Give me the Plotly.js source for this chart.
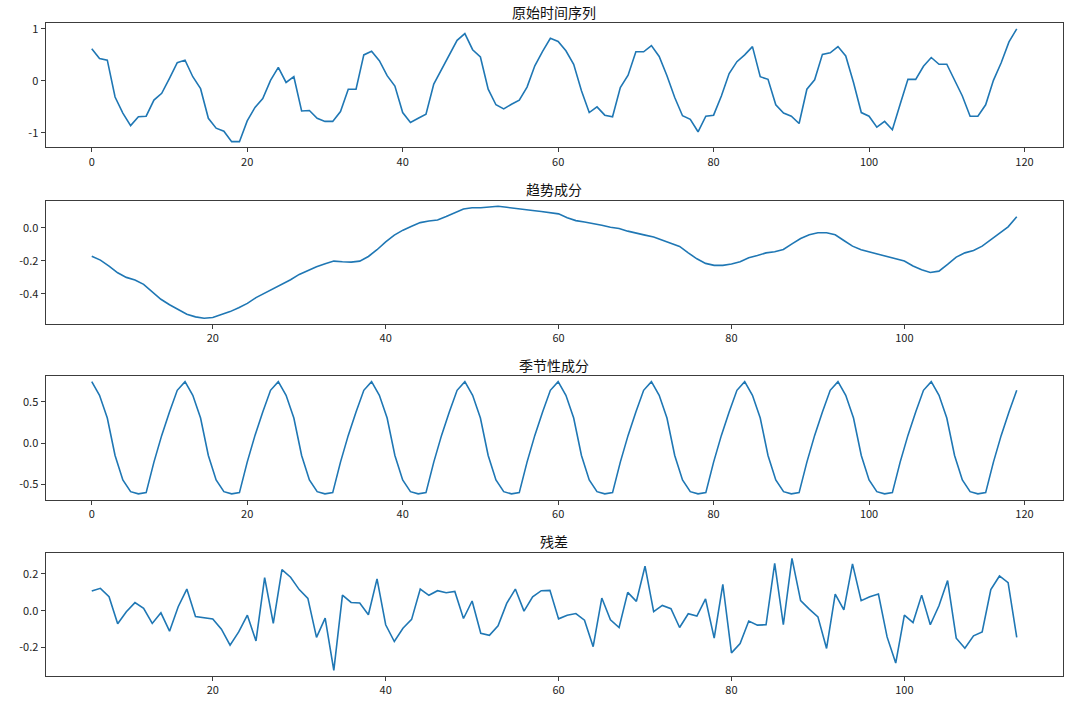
<!DOCTYPE html>
<html>
<head>
<meta charset="utf-8">
<script src="https://cdn.plot.ly/plotly-3.0.1.min.js"></script>
<style>html,body{margin:0;padding:0;background:#fff;}#chart{width:1080px;height:710px;}</style>
</head>
<body>
<div id="chart"></div>
<script>
// ---------- data ----------
const originalX = Array.from({length: 120}, (_, i) => i);
const originalY = [
  0.62, 0.43, 0.40, -0.31, -0.62, -0.86, -0.69, -0.68, -0.37, -0.24,
  0.05, 0.35, 0.40, 0.08, -0.15, -0.72, -0.91, -0.97, -1.17, -1.17,
  -0.77, -0.51, -0.34, 0.01, 0.26, -0.03, 0.08, -0.58, -0.57, -0.72,
  -0.78, -0.78, -0.59, -0.16, -0.16, 0.50, 0.57, 0.39, 0.10, -0.10,
  -0.61, -0.80, -0.72, -0.64, -0.06, 0.22, 0.51, 0.78, 0.91, 0.60,
  0.46, -0.16, -0.46, -0.54, -0.45, -0.37, -0.12, 0.29, 0.57, 0.82,
  0.76, 0.58, 0.32, -0.19, -0.61, -0.50, -0.66, -0.69, -0.13, 0.11,
  0.56, 0.56, 0.68, 0.47, 0.10, -0.32, -0.67, -0.74, -0.98, -0.68,
  -0.66, -0.29, 0.14, 0.37, 0.50, 0.66, 0.08, 0.03, -0.46, -0.62,
  -0.68, -0.82, -0.16, 0.02, 0.51, 0.54, 0.66, 0.48, -0.03, -0.61,
  -0.68, -0.89, -0.78, -0.94, -0.45, 0.03, 0.03, 0.28, 0.45, 0.32,
  0.32, 0.00, -0.29, -0.68, -0.68, -0.46, 0.01, 0.35, 0.75, 1.00
];

const trendX = Array.from({length: 108}, (_, i) => i + 6);
const trendY = [
  -0.172, -0.196, -0.232, -0.273, -0.301, -0.317, -0.343, -0.388, -0.434, -0.467,
  -0.497, -0.525, -0.541, -0.549, -0.545, -0.529, -0.509, -0.485, -0.459, -0.424,
  -0.396, -0.372, -0.345, -0.315, -0.283, -0.257, -0.236, -0.218, -0.202, -0.206,
  -0.208, -0.202, -0.174, -0.133, -0.085, -0.044, -0.014, 0.010, 0.032, 0.042,
  0.048, 0.069, 0.093, 0.115, 0.122, 0.122, 0.127, 0.131, 0.125, 0.117,
  0.111, 0.105, 0.099, 0.093, 0.085, 0.061, 0.044, 0.036, 0.028, 0.016,
  0.004, -0.004, -0.020, -0.034, -0.044, -0.055, -0.075, -0.091, -0.113, -0.152,
  -0.188, -0.216, -0.228, -0.228, -0.220, -0.206, -0.182, -0.168, -0.152, -0.145,
  -0.131, -0.097, -0.065, -0.042, -0.030, -0.030, -0.042, -0.077, -0.111, -0.133,
  -0.147, -0.158, -0.172, -0.186, -0.202, -0.232, -0.255, -0.271, -0.263, -0.222,
  -0.178, -0.152, -0.137, -0.111, -0.071, -0.036, 0.006, 0.067
];

// one seasonal cycle (period 12), repeated over the series
const seasonalCycle = [0.745, 0.580, 0.305, -0.148, -0.443, -0.585, -0.612, -0.597, -0.228, 0.095, 0.378, 0.640];
const seasonalX = originalX;
const seasonalY = seasonalX.map(i => seasonalCycle[i % 12]);

const residX = trendX;
const residY = [
  0.107, 0.122, 0.076, -0.071, -0.005, 0.044, 0.013, -0.069, -0.011, -0.111,
  0.022, 0.118, -0.031, -0.040, -0.045, -0.100, -0.187, -0.115, -0.024, -0.164,
  0.180, -0.069, 0.224, 0.182, 0.115, 0.067, -0.145, -0.040, -0.324, 0.085,
  0.045, 0.042, -0.022, 0.173, -0.076, -0.167, -0.095, -0.047, 0.118, 0.084,
  0.109, 0.098, 0.105, -0.042, 0.053, -0.122, -0.133, -0.082, 0.040, 0.118,
  -0.002, 0.076, 0.109, 0.111, -0.044, -0.024, -0.015, -0.051, -0.195, 0.069,
  -0.049, -0.091, 0.100, 0.051, 0.242, -0.005, 0.029, 0.011, -0.091, -0.016,
  -0.029, 0.064, -0.149, 0.144, -0.229, -0.178, -0.056, -0.078, -0.076, 0.258,
  -0.076, 0.285, 0.055, 0.009, -0.033, -0.205, 0.091, 0.005, 0.255, 0.055,
  0.076, 0.091, -0.142, -0.284, -0.024, -0.064, 0.085, -0.076, 0.027, 0.164,
  -0.149, -0.204, -0.136, -0.115, 0.115, 0.189, 0.153, -0.145
];

const panelTitles = ['原始时间序列', '趋势成分', '季节性成分', '残差'];

const xTickVals = [0, 20, 40, 60, 80, 100, 120];
const xTickText = ['0', '20', '40', '60', '80', '100', '120'];
const y1TickVals = [-1, 0, 1];
const y1TickText = ['-1', '0', '1'];
const y2TickVals = [-0.4, -0.2, 0.0];
const y2TickText = ['-0.4', '-0.2', '0.0'];
const y3TickVals = [-0.5, 0.0, 0.5];
const y3TickText = ['-0.5', '0.0', '0.5'];
const y4TickVals = [-0.2, 0.0, 0.2];
const y4TickText = ['-0.2', '0.0', '0.2'];

// ---------- helpers ----------
function padRange(arr) {
  const mn = Math.min(...arr), mx = Math.max(...arr);
  const p = (mx - mn) * 0.05;
  return [mn - p, mx + p];
}

const W = 1080, H = 710;
const left = 45.5, right = 1063;
const boxes = [[23.3, 147.3], [200.7, 323.8], [376, 499.5], [552.7, 676]];
const lineColor = '#1f77b4';
const frameColor = '#3c3c3c';
const tickFont = {family: '"Noto Sans CJK SC", "DejaVu Sans", sans-serif', size: 11, color: '#222'};

function xAxis(i, xs) {
  return {
    domain: [left / W, right / W],
    anchor: 'y' + (i === 1 ? '' : i),
    range: padRange(xs),
    tickmode: 'array', tickvals: xTickVals, ticktext: xTickText,
    ticks: 'outside', ticklen: 4, tickwidth: 1, tickcolor: frameColor,
    showline: true, linecolor: frameColor, linewidth: 1, mirror: true,
    showgrid: false, zeroline: false, tickfont: tickFont, fixedrange: true
  };
}
function yAxis(i, ys, tv, tt) {
  const b = boxes[i - 1];
  return {
    domain: [1 - b[1] / H, 1 - b[0] / H],
    anchor: 'x' + (i === 1 ? '' : i),
    range: padRange(ys),
    tickmode: 'array', tickvals: tv, ticktext: tt,
    ticks: 'outside', ticklen: 4, tickwidth: 1, tickcolor: frameColor,
    showline: true, linecolor: frameColor, linewidth: 1, mirror: true,
    showgrid: false, zeroline: false, tickfont: tickFont, fixedrange: true
  };
}

const seriesX = [originalX, trendX, seasonalX, residX];
const seriesY = [originalY, trendY, seasonalY, residY];

const traces = seriesX.map((xs, k) => ({
  type: 'scatter', mode: 'lines',
  x: xs, y: seriesY[k],
  xaxis: 'x' + (k === 0 ? '' : k + 1),
  yaxis: 'y' + (k === 0 ? '' : k + 1),
  line: {color: lineColor, width: 1.6},
  hoverinfo: 'skip', showlegend: false
}));

const annotations = panelTitles.map((t, k) => ({
  text: t, showarrow: false,
  xref: 'paper', yref: 'paper',
  x: (left + right) / 2 / W,
  y: 1 - (boxes[k][0] - 11.5) / H,
  xanchor: 'center', yanchor: 'middle',
  font: {family: '"Noto Sans CJK SC", sans-serif', size: 14, color: '#111'}
}));

const layout = {
  width: W, height: H,
  margin: {l: 0, r: 0, t: 0, b: 0},
  paper_bgcolor: '#fff', plot_bgcolor: '#fff',
  showlegend: false,
  xaxis: xAxis(1, originalX), yaxis: yAxis(1, originalY, y1TickVals, y1TickText),
  xaxis2: xAxis(2, trendX), yaxis2: yAxis(2, trendY, y2TickVals, y2TickText),
  xaxis3: xAxis(3, seasonalX), yaxis3: yAxis(3, seasonalY, y3TickVals, y3TickText),
  xaxis4: xAxis(4, residX), yaxis4: yAxis(4, residY, y4TickVals, y4TickText),
  annotations: annotations
};

Plotly.newPlot('chart', traces, layout, {staticPlot: true, displayModeBar: false});
</script>
</body>
</html>
